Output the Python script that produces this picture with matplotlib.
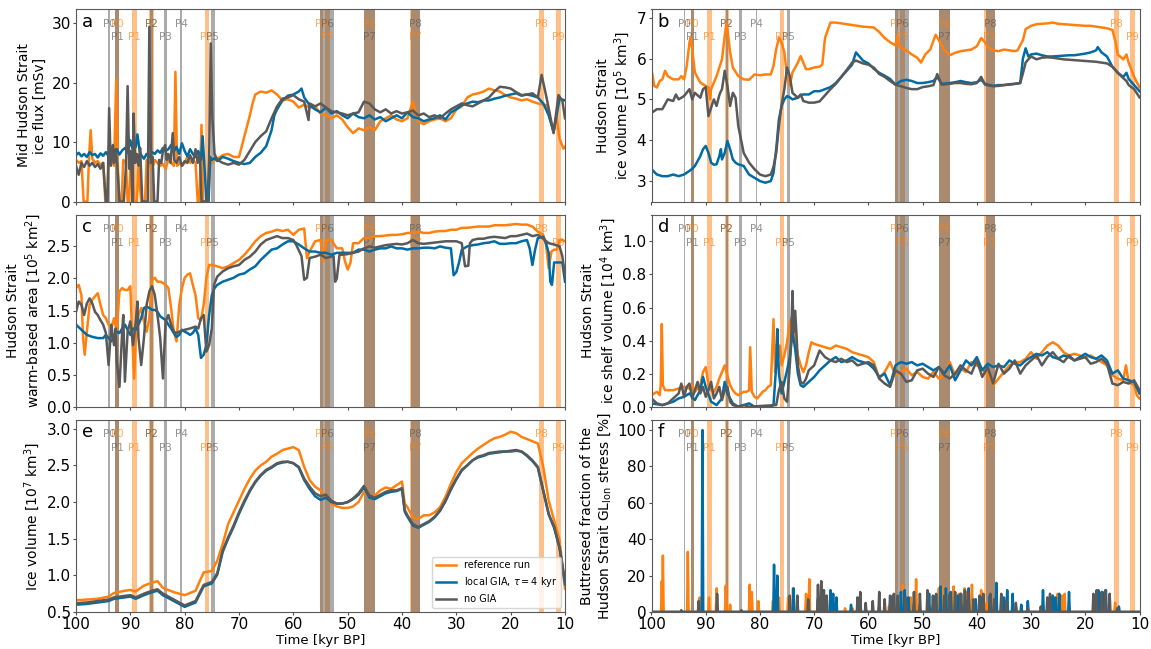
import numpy as np
import matplotlib
matplotlib.use("Agg")
import matplotlib.pyplot as plt
from matplotlib.transforms import blended_transform_factory

C_REF = "#FF800E"
C_LOC = "#006BA4"
C_NOG = "#595959"

# ---------------------------------------------------------------- events (kyr BP, older, younger)
ref_events = [("P0", 92.8, 92.1), ("P1", 89.7, 88.8), ("P2", 86.5, 85.7),
              ("P3", 76.3, 75.6), ("P4", 55.1, 54.5), ("P5", 54.2, 53.3),
              ("P6", 47.0, 45.0), ("P7", 38.6, 36.6), ("P8", 14.7, 13.8),
              ("P9", 11.7, 10.8)]
nogia_events = [("P0", 94.05, 93.8), ("P1", 92.8, 92.1), ("P2", 86.3, 85.9),
                ("P3", 83.8, 83.3), ("P4", 80.8, 80.55), ("P5", 75.1, 74.5),
                ("P6", 55.1, 52.5), ("P7", 47.0, 45.0), ("P8", 38.4, 36.6)]

# ---------------------------------------------------------------- a: mid Hudson Strait ice flux [mSv]
flux_ref = [(100, 7.0), (99.5, 6.5), (99, 6.8), (98.6, 0), (97.9, 0), (97.6, 7.5), (97.3, 12.0),
            (97, 7.2), (96.5, 6.5), (96, 6.8), (95.5, 6.2), (95, 6.5), (94.6, 0), (94.3, 0),
            (94, 6.5), (93.5, 7.0), (93, 6.0), (92.6, 20.5), (92.3, 6.0), (92, 0), (91.6, 0),
            (91.3, 7.0), (90.8, 6.5), (90.5, 0), (90.2, 0), (90, 6.0), (89.6, 7.0), (89.3, 0),
            (88.8, 0), (88.5, 5.8), (88, 0), (87.3, 0), (87, 7.0), (86.5, 6.5), (86, 5.5),
            (85.5, 7.0), (85, 6.5), (84.5, 6.0), (84, 6.3), (83.5, 5.5), (83, 7.0), (82.5, 6.5),
            (82, 6.0), (81.7, 21.8), (81.4, 6.0), (81, 6.5), (80.5, 6.0), (80, 6.5), (79.5, 7.5),
            (79, 6.5), (78.5, 7.0), (78, 6.5), (77.6, 0), (77.3, 0), (76.9, 12.9), (76.6, 0),
            (75.7, 0), (75.3, 6.5), (75, 6.5), (74.5, 7.0), (74, 7.2), (73, 7.8), (72, 8.0),
            (71, 7.5), (70, 7.5), (69, 11.0), (68, 14.5), (67.5, 16.5), (67, 18.0), (66, 18.5),
            (65, 18.3), (64, 18.7), (63, 18.0), (62, 17.0), (61, 17.2), (60, 16.8), (59, 15.8),
            (58, 16.3), (57, 15.8), (56, 16.0), (55, 14.8), (54, 14.5), (53, 14.0), (52, 14.5),
            (51, 13.8), (50, 12.5), (49, 11.5), (48, 12.3), (47, 12.0), (46, 12.5), (45, 12.0),
            (44, 13.5), (43, 14.0), (42, 14.5), (41, 13.8), (40, 13.5), (39, 14.0), (38, 16.8),
            (37, 13.5), (36, 13.0), (35, 13.5), (34, 13.8), (33, 14.0), (32, 13.5), (31, 14.0),
            (30, 15.5), (29, 16.0), (28, 17.5), (27, 18.0), (26, 18.2), (25, 18.5), (24, 19.0),
            (23, 18.7), (22, 18.5), (21, 17.9), (20, 17.5), (19, 17.3), (18, 17.0), (17, 17.2),
            (16, 16.8), (15, 16.5), (13.4, 16.2), (12.1, 11.7), (11.6, 14.5), (11, 10.6),
            (10.3, 8.9), (10, 9.2)]
flux_loc = [(100, 7.8), (99.5, 8.2), (99, 7.6), (98.5, 8.0), (98, 7.5), (97.5, 8.3), (97, 7.8),
            (96.5, 8.0), (96, 7.4), (95.5, 8.1), (95, 7.7), (94.5, 8.3), (94, 7.6), (93.5, 8.5),
            (93, 8.0), (92.5, 8.8), (92, 7.9), (91.5, 8.6), (91, 9.0), (90.5, 8.2), (90, 10.3),
            (89.5, 8.5), (89, 9.2), (88.7, 11.3), (88.3, 8.6), (88, 7.8), (87.5, 7.2), (87, 8.0),
            (86.5, 7.5), (86, 8.3), (85.5, 8.0), (85, 8.6), (84.5, 8.2), (84, 9.0), (83.5, 8.5),
            (83, 8.8), (82.5, 9.5), (82, 8.4), (81.5, 9.2), (81, 8.0), (80.5, 9.8), (80, 8.5),
            (79.5, 7.6), (79, 8.8), (78.5, 8.0), (78, 7.5), (77.5, 8.5), (77, 7.0), (76.7, 11.0),
            (76.3, 5.0), (76.0, 0), (75.6, 0), (75.3, 7.5), (75, 7.0), (74.5, 7.3), (74, 6.8),
            (73, 7.5), (72, 7.2), (71, 6.8), (70, 6.5), (69, 6.3), (68, 6.5), (67, 7.5),
            (66, 8.2), (65, 9.3), (64, 12.0), (63.5, 14.5), (63, 15.5), (62, 17.0), (61, 17.8),
            (60, 18.0), (59, 18.5), (58.5, 19.0), (58, 17.5), (57, 16.2), (56, 15.5), (55, 15.0),
            (54, 15.8), (53, 14.8), (52, 15.2), (51, 14.5), (50, 14.0), (49, 14.8), (48, 14.2),
            (47, 14.0), (46, 14.5), (45, 13.8), (44, 14.2), (43, 13.5), (42, 14.0), (41, 14.5),
            (40, 14.0), (39, 15.0), (38, 14.2), (37, 14.0), (36, 13.5), (35, 13.8), (34, 14.0),
            (33, 14.5), (32, 13.8), (31, 15.0), (30, 15.5), (29, 16.2), (28, 16.5), (27, 16.8),
            (26, 16.7), (25, 17.0), (24, 17.0), (23, 17.3), (22, 17.5), (21, 17.8), (20, 18.0),
            (19, 18.2), (18, 17.8), (17, 18.0), (16, 17.8), (15, 17.5), (14, 16.5), (13, 14.5),
            (12.1, 11.7), (11, 17.3), (10, 17.0)]
flux_nog = [(100, 6.0), (99.5, 4.5), (99, 6.5), (98.5, 5.8), (98, 6.8), (97.5, 6.0), (97, 6.5),
            (96.5, 5.8), (96, 6.3), (95.5, 5.5), (95, 6.5), (94.5, 0), (94.2, 0), (93.9, 15.7),
            (93.6, 6.0), (93.2, 9.5), (93, 6.5), (92.7, 8.8), (92.4, 6.0), (92, 0), (91.2, 0),
            (90.8, 6.0), (90.5, 19.4), (90.2, 5.5), (89.9, 8.5), (89.6, 0), (89.4, 14.8),
            (89.1, 6.5), (88.8, 8.0), (88.5, 6.0), (88.2, 9.0), (87.8, 0), (86.8, 0), (86.5, 29.4),
            (86.2, 6.5), (85.9, 7.5), (85.6, 0), (85.0, 0), (84.7, 7.0), (84.3, 6.5), (84, 8.5),
            (83.6, 9.5), (83.3, 7.0), (83, 8.0), (82.6, 6.5), (82.2, 11.5), (81.9, 7.0),
            (81.5, 6.5), (81, 7.5), (80.5, 6.0), (80, 6.8), (79.5, 6.5), (79, 7.8), (78.5, 6.5),
            (78, 8.8), (77.6, 6.5), (77.2, 8.0), (76.9, 0), (75.8, 0), (75.5, 7.0), (75.2, 26.6),
            (74.9, 14.0), (74.5, 8.0), (74, 7.0), (73, 6.5), (72, 6.2), (71, 6.5), (70, 6.2),
            (69, 7.0), (68, 8.5), (67, 10.0), (66, 11.0), (65, 11.8), (64, 14.0), (63, 16.0),
            (62, 17.3), (61, 17.5), (60, 17.9), (59, 17.2), (58, 16.8), (57.2, 13.7), (57, 16.5),
            (56, 16.0), (55, 16.5), (54, 15.8), (53, 15.2), (52, 15.0), (51, 14.8), (50, 14.5),
            (49, 14.8), (48, 15.0), (47, 16.8), (46, 16.5), (45, 15.5), (44, 15.0), (43, 15.5),
            (42, 14.8), (41, 15.2), (40, 14.8), (39, 15.0), (38, 15.3), (37, 14.5), (36, 14.8),
            (35, 14.2), (34, 14.5), (33, 14.0), (32, 14.8), (31, 15.5), (30, 16.0), (29, 16.5),
            (28, 16.2), (27, 16.0), (26, 16.5), (25, 17.0), (24, 17.5), (23, 18.5), (22, 19.3),
            (21, 19.2), (20, 19.0), (19, 18.4), (18, 17.9), (17, 18.0), (16, 18.2), (15, 17.5),
            (14.3, 21.3), (13.4, 17.5), (12.1, 11.5), (11.2, 17.9), (10.5, 17.0), (10, 14.0)]

# ---------------------------------------------------------------- b: Hudson Strait ice volume [1e5 km3]
hsvol_ref = [(100, 5.74), (99.5, 5.33), (99, 5.29), (98.5, 5.45), (98, 5.49), (97.5, 5.70),
             (97, 5.57), (96, 5.49), (95, 5.49), (94.5, 5.57), (94, 5.49), (93.5, 5.82),
             (93, 6.39), (92.8, 6.51), (92.5, 6.23), (92, 5.66), (91, 5.41), (90, 5.33),
             (89.5, 5.29), (89.2, 5.00), (89, 5.25), (88, 5.57), (87, 5.98), (86.5, 6.55),
             (86.2, 6.84), (86, 6.72), (85.5, 6.15), (85, 5.78), (84, 5.57), (83, 5.49),
             (82, 5.48), (81, 5.61), (80, 5.59), (79, 5.61), (78, 5.61), (77.5, 5.82), (77, 6.23),
             (76.5, 6.51), (76, 6.39), (75.5, 6.15), (75, 5.57), (74.5, 5.33), (74, 5.66),
             (73, 5.90), (72.5, 6.06), (72, 5.90), (71.5, 5.74), (71, 5.74), (70, 5.78),
             (69, 5.80), (68.5, 5.85), (68, 6.50), (67, 6.88), (66, 6.88), (65, 6.86), (64, 6.84),
             (63, 6.82), (62, 6.80), (61, 6.78), (60, 6.77), (59, 6.76), (58, 6.65), (57, 6.50),
             (56, 6.40), (55, 6.32), (54.7, 6.55), (54.2, 6.28), (53, 6.20), (52, 6.10),
             (51, 6.02), (50.3, 5.90), (49.5, 6.10), (48.6, 6.22), (47.6, 6.58), (47, 6.45),
             (46, 6.20), (45, 6.08), (44, 6.14), (43, 6.18), (42, 6.20), (41, 6.22), (40, 6.30),
             (39.2, 6.50), (38.5, 6.40), (38, 6.28), (37, 6.20), (36, 6.18), (35, 6.22),
             (34, 6.20), (33, 6.18), (32.5, 6.20), (31.5, 6.45), (31, 6.72), (30, 6.80),
             (29, 6.84), (28, 6.85), (27, 6.86), (26, 6.88), (25, 6.85), (24, 6.84), (23, 6.83),
             (22, 6.82), (21, 6.81), (20, 6.80), (19, 6.80), (18, 6.78), (17, 6.76), (16, 6.74),
             (15, 6.70), (14.4, 6.39), (14, 6.10), (13, 5.98), (12.4, 6.10), (12, 5.90),
             (11, 5.56), (10.5, 5.42), (10, 5.30)]
hsvol_loc = [(100, 3.29), (99, 3.16), (98, 3.12), (97, 3.12), (96, 3.16), (95.5, 3.14),
             (95, 3.12), (94, 3.16), (93, 3.25), (92.5, 3.30), (92, 3.37), (91, 3.61),
             (90.5, 3.78), (90, 3.86), (89.5, 3.69), (89, 3.45), (88.5, 3.40), (88, 3.41),
             (87.5, 3.61), (87.2, 3.78), (87, 3.53), (86.5, 3.69), (86, 3.98), (85.5, 3.78),
             (85, 3.53), (84.5, 3.45), (84, 3.41), (83, 3.37), (82, 3.16), (81, 3.08), (80, 3.00),
             (79, 2.96), (78, 3.00), (77.5, 3.20), (77, 3.78), (76.5, 4.51), (76, 4.84),
             (75.5, 5.00), (75, 5.08), (74.5, 5.05), (74, 5.00), (73, 5.04), (72.5, 5.10),
             (72, 5.12), (71, 5.12), (70, 5.20), (69, 5.20), (68, 5.25), (67, 5.30), (66, 5.40),
             (65, 5.55), (64, 5.70), (63, 5.85), (62.3, 6.15), (61, 5.95), (60, 5.88), (59, 5.75),
             (58, 5.65), (57, 5.58), (56, 5.50), (55, 5.36), (54, 5.45), (53, 5.48), (52, 5.45),
             (51, 5.40), (50, 5.40), (49, 5.42), (48, 5.45), (47.3, 5.55), (46.5, 5.38),
             (45, 5.40), (44, 5.42), (43, 5.45), (42, 5.42), (41, 5.40), (40, 5.42), (39.2, 5.48),
             (38.5, 5.38), (37, 5.33), (36, 5.35), (35, 5.35), (34, 5.37), (33, 5.38), (32, 5.40),
             (31.5, 6.00), (31, 6.25), (30.5, 6.05), (30, 6.10), (29, 6.12), (28, 6.08),
             (27, 6.05), (26, 6.05), (25, 6.06), (24, 6.07), (23, 6.08), (22, 6.08), (21, 6.10),
             (20, 6.12), (19, 6.15), (18, 6.20), (17.7, 6.28), (17, 6.15), (16, 6.05), (15, 5.80),
             (14, 5.65), (13, 5.55), (12.4, 5.65), (12, 5.50), (11, 5.35), (10, 5.20)]
hsvol_nog = [(100, 4.67), (99, 4.76), (98, 4.76), (97, 5.00), (96, 4.96), (95.5, 5.12),
             (95, 5.00), (94, 5.08), (93, 5.25), (92.5, 5.00), (92, 5.16), (91, 5.04),
             (90.5, 5.25), (90, 5.30), (89.5, 4.59), (89, 4.80), (88.5, 5.00), (88, 4.84),
             (87.5, 5.10), (87.2, 5.20), (87, 5.25), (86.5, 5.70), (86, 5.33), (85.5, 4.84),
             (85, 5.16), (84.5, 5.04), (84, 4.35), (83, 3.69), (82, 3.45), (81, 3.29), (80, 3.16),
             (79, 3.12), (78, 3.16), (77.5, 3.35), (77, 3.69), (76.5, 4.35), (76, 4.88),
             (75.5, 5.25), (75, 5.78), (74.5, 5.57), (74, 5.16), (73, 5.04), (72.5, 5.12),
             (72, 4.96), (71, 4.92), (70, 4.92), (69, 4.95), (68, 5.10), (67, 5.25), (66, 5.38),
             (65, 5.55), (64, 5.72), (63, 5.90), (62.3, 5.95), (61, 5.88), (60, 5.85), (59, 5.78),
             (58, 5.62), (57, 5.55), (56, 5.45), (55, 5.36), (54, 5.32), (53, 5.28), (52, 5.25),
             (51, 5.25), (50, 5.30), (49, 5.32), (48, 5.35), (47.3, 5.62), (46.5, 5.36),
             (45, 5.38), (44, 5.40), (43, 5.40), (42, 5.38), (41, 5.37), (40, 5.40), (39.2, 5.55),
             (38.5, 5.36), (37, 5.32), (36, 5.33), (35, 5.35), (34, 5.36), (33, 5.38), (32, 5.40),
             (31.5, 5.64), (31, 5.90), (30.5, 5.98), (30, 6.05), (29, 5.98), (28, 6.02),
             (27, 6.03), (26, 6.02), (25, 6.00), (24, 5.98), (23, 5.97), (22, 5.96), (21, 5.95),
             (20, 5.94), (19, 5.93), (18, 5.92), (17, 5.90), (16, 5.88), (15, 5.80), (14, 5.65),
             (13, 5.52), (12.4, 5.45), (12, 5.35), (11, 5.25), (10, 5.05)]

# ---------------------------------------------------------------- c: warm-based area [1e5 km2]
area_ref = [(100, 1.85), (99.5, 1.90), (99, 1.74), (98.7, 1.07), (98.4, 0.81), (98, 1.17),
            (97.5, 1.59), (97, 1.67), (96.5, 1.72), (96, 1.77), (95.5, 1.59), (95, 1.43),
            (94.5, 1.38), (94, 1.28), (93.5, 1.22), (93, 1.38), (92.5, 1.17), (92, 1.80),
            (91.5, 1.85), (91, 1.82), (90.5, 1.82), (90, 1.88), (89.7, 1.17), (89.3, 0.44),
            (89, 1.07), (88.5, 1.43), (88, 1.54), (87.5, 1.33), (87, 1.17), (86.5, 1.38),
            (86, 1.98), (85.5, 2.01), (85, 1.95), (84.5, 1.95), (84, 1.93), (83.5, 1.90),
            (83, 1.85), (82.5, 1.54), (82, 1.17), (81.5, 1.02), (81, 1.59), (80.5, 1.85),
            (80, 2.01), (79.5, 2.06), (79, 2.08), (78.5, 1.90), (78, 1.74), (77.5, 1.38),
            (77, 1.35), (76.5, 1.59), (76, 2.01), (75.5, 2.21), (75, 2.21), (74, 2.19), (73, 2.16),
            (72, 2.19), (71, 2.24), (70, 2.29), (69, 2.37), (68, 2.47), (67, 2.58), (66, 2.66),
            (65, 2.71), (64, 2.73), (63, 2.76), (62, 2.74), (61, 2.76), (60, 2.68), (59, 2.76),
            (58, 2.78), (57.5, 2.32), (57, 2.42), (56, 2.58), (55, 2.60), (54.5, 2.27), (54, 2.58),
            (53, 2.60), (52, 2.47), (51, 2.47), (50.5, 2.27), (50, 2.14), (49.5, 2.24), (49, 2.55),
            (48, 2.55), (47, 2.63), (46, 2.63), (45, 2.66), (44, 2.66), (43, 2.67), (42, 2.68),
            (41, 2.68), (40, 2.69), (39, 2.71), (38, 2.71), (37, 2.73), (36, 2.71), (35, 2.71),
            (34, 2.73), (33, 2.74), (32, 2.74), (31, 2.76), (30, 2.76), (29, 2.79), (28, 2.79),
            (27, 2.80), (26, 2.81), (25, 2.81), (24, 2.81), (23, 2.83), (22, 2.83), (21, 2.83),
            (20, 2.84), (19, 2.85), (18, 2.84), (17, 2.84), (16, 2.81), (15, 2.73), (14, 2.68),
            (13.5, 2.53), (13, 2.16), (12.5, 2.42), (12, 2.45), (11.5, 2.45), (11, 2.60),
            (10.5, 2.60), (10, 2.58)]
area_loc = [(100, 1.28), (99, 1.20), (98, 1.12), (97, 1.09), (96, 1.07), (95, 1.07), (94.5, 1.12),
            (94, 1.07), (93.5, 1.02), (93, 1.09), (92.5, 1.17), (92, 1.15), (91.5, 1.22),
            (91, 1.28), (90.5, 1.20), (90, 1.12), (89.5, 1.22), (89, 1.20), (88.5, 1.28),
            (88, 1.38), (87.5, 1.54), (87, 1.56), (86.5, 1.54), (86, 1.51), (85.5, 1.51),
            (85, 1.48), (84.5, 1.41), (84, 1.38), (83.5, 1.35), (83, 1.28), (82.5, 1.22),
            (82, 1.15), (81.5, 1.09), (81, 1.12), (80.5, 1.20), (80, 1.17), (79.5, 1.15),
            (79, 1.12), (78.5, 1.15), (78, 1.22), (77.5, 1.12), (77, 0.76), (76.5, 0.81),
            (76, 0.96), (75.5, 1.43), (75, 1.74), (74.5, 1.85), (74, 1.90), (73, 1.95), (72, 1.98),
            (71, 2.01), (70, 2.06), (69, 2.08), (68, 2.14), (67, 2.19), (66, 2.29), (65, 2.37),
            (64, 2.45), (63, 2.47), (62, 2.53), (61, 2.58), (60, 2.58), (59, 2.53), (58, 2.47),
            (57, 2.42), (56, 2.42), (55, 2.40), (54, 2.40), (53, 2.37), (52, 2.40), (51, 2.40),
            (50, 2.40), (49, 2.40), (48, 2.45), (47, 2.45), (46, 2.42), (45, 2.45), (44, 2.47),
            (43, 2.47), (42, 2.50), (41, 2.47), (40, 2.47), (39, 2.45), (38, 2.47), (37, 2.47),
            (36, 2.48), (35, 2.48), (34, 2.47), (33, 2.50), (32, 2.48), (31, 2.47), (30.5, 2.05),
            (30, 2.10), (29.5, 2.25), (29, 2.45), (28, 2.50), (27, 2.52), (26, 2.53), (25, 2.55),
            (24, 2.56), (23, 2.58), (22, 2.54), (21, 2.54), (20, 2.55), (19, 2.55), (18, 2.58),
            (17, 2.60), (16.5, 2.47), (16, 2.21), (15.5, 2.45), (15, 2.63), (14, 2.65),
            (13.5, 2.55), (13, 2.40), (12.7, 1.95), (12.4, 1.90), (12, 2.25), (11.5, 2.25),
            (11, 2.25), (10.5, 2.25), (10, 1.95)]
area_nog = [(100, 1.48), (99.5, 1.64), (99, 1.59), (98.5, 1.43), (98, 1.61), (97.5, 1.69),
            (97, 1.61), (96.5, 1.48), (96, 1.43), (95.5, 1.35), (95, 1.28), (94.5, 1.15),
            (94, 0.65), (93.5, 1.28), (93, 0.96), (92.7, 1.22), (92.5, 0.70), (92, 0.31),
            (91.5, 1.17), (91.3, 1.43), (91, 0.39), (90.5, 1.17), (90, 1.33), (89.5, 0.96),
            (89, 1.33), (88.7, 1.64), (88.5, 1.07), (88, 0.65), (87.5, 1.07), (87, 1.59),
            (86.5, 1.80), (86, 1.88), (85.5, 1.74), (85, 1.43), (84.5, 1.07), (84, 0.44),
            (83.5, 1.33), (83, 1.43), (82.5, 1.28), (82, 1.17), (81.5, 1.15), (81, 1.17),
            (80, 1.20), (79, 1.22), (78, 1.25), (77.5, 1.22), (77, 1.38), (76.5, 1.43), (76, 0.86),
            (75.5, 0.96), (75, 1.22), (74.6, 1.90), (74, 2.03), (73, 2.11), (72, 2.16), (71, 2.19),
            (70, 2.21), (69, 2.29), (68, 2.34), (67, 2.42), (66, 2.53), (65, 2.60), (64, 2.63),
            (63, 2.66), (62, 2.63), (61, 2.63), (60, 2.60), (59.5, 2.53), (58.5, 2.35), (58, 1.98),
            (57.5, 2.01), (57, 2.32), (56, 2.34), (55, 2.37), (54, 2.32), (53, 2.34), (52.6, 2.35),
            (52.3, 1.95), (52, 2.00), (51.5, 2.37), (51, 2.37), (50, 2.38), (49, 2.40), (48, 2.42),
            (47, 2.47), (46, 2.50), (45, 2.48), (44, 2.50), (43, 2.52), (42, 2.53), (41, 2.54),
            (40, 2.53), (39, 2.55), (38, 2.60), (37, 2.55), (36, 2.54), (35, 2.55), (34, 2.56),
            (33, 2.57), (32, 2.58), (31, 2.58), (30, 2.58), (29, 2.55), (28.4, 2.19), (27.8, 2.20),
            (27.5, 2.55), (27, 2.60), (26, 2.62), (25, 2.62), (24, 2.64), (23, 2.65), (22, 2.64),
            (21, 2.63), (20, 2.66), (19, 2.66), (18, 2.68), (17, 2.70), (16, 2.66), (15, 2.68),
            (14, 2.62), (13, 2.55), (12, 2.53), (11, 2.50), (10.5, 2.35), (10, 2.05)]

# ---------------------------------------------------------------- d: ice shelf volume [1e4 km3]
shelf_ref = [(100, 0.07), (99.5, 0.08), (99, 0.09), (98.5, 0.07), (98.3, 0.13), (98.1, 0.50),
             (97.9, 0.13), (97.5, 0.10), (97, 0.10), (96, 0.10), (95, 0.11), (94, 0.12), (93, 0.11),
             (92.5, 0.13), (92, 0.09), (91.5, 0.11), (91, 0.13), (90.5, 0.21), (90, 0.24),
             (89.5, 0.13), (89, 0.10), (88.5, 0.09), (88, 0.12), (87.5, 0.17), (87, 0.21),
             (86.5, 0.25), (86, 0.19), (85.5, 0.13), (85, 0.10), (84.5, 0.08), (84, 0.07),
             (83.5, 0.08), (83, 0.09), (82.5, 0.09), (82, 0.10), (81.8, 0.36), (81.5, 0.09),
             (81, 0.06), (80.5, 0.05), (80, 0.07), (79.5, 0.09), (79, 0.10), (78.5, 0.12),
             (78, 0.13), (77.5, 0.53), (77.2, 0.21), (77, 0.37), (76.7, 0.29), (76.3, 0.37),
             (76, 0.25), (75.5, 0.31), (75, 0.39), (74.5, 0.51), (74, 0.55), (73.5, 0.41),
             (73, 0.31), (72.5, 0.25), (72, 0.21), (71.5, 0.25), (71, 0.33), (70.5, 0.39),
             (70, 0.38), (69, 0.37), (68, 0.36), (67, 0.35), (66, 0.37), (65, 0.36), (64, 0.35),
             (63, 0.33), (62, 0.32), (61, 0.31), (60, 0.30), (59, 0.27), (58, 0.17), (57, 0.21),
             (56, 0.27), (55, 0.19), (54, 0.21), (53, 0.23), (52, 0.19), (51, 0.21), (50, 0.18),
             (49, 0.17), (48, 0.21), (47, 0.17), (46, 0.19), (45, 0.27), (44, 0.19), (43, 0.23),
             (42, 0.21), (41, 0.27), (40, 0.25), (39, 0.23), (38, 0.19), (37, 0.13), (36, 0.17),
             (35, 0.21), (34, 0.25), (33, 0.27), (32, 0.27), (31, 0.29), (30, 0.33), (29, 0.29),
             (28, 0.33), (27, 0.37), (26, 0.39), (25, 0.37), (24, 0.33), (23, 0.31), (22, 0.32),
             (21, 0.31), (20, 0.30), (19, 0.31), (18, 0.29), (17, 0.27), (16, 0.25), (15, 0.19),
             (14, 0.17), (13, 0.16), (12.5, 0.25), (12, 0.15), (11, 0.13), (10.5, 0.07), (10, 0.05)]
shelf_loc = [(100, 0.02), (98, 0.01), (96, 0.03), (95, 0.05), (94, 0.06), (93, 0.08), (92, 0.04),
             (91, 0.10), (90.5, 0.18), (90, 0.12), (89, 0.03), (88, 0.01), (87, 0.05), (86.5, 0.15),
             (86, 0.08), (85, 0.02), (84, 0.0), (83, 0.01), (82, 0.02), (81, 0.0), (78, 0.0),
             (77.5, 0.01), (77, 0.25), (76.8, 0.47), (76.5, 0.20), (76, 0.08), (75.5, 0.15),
             (75, 0.22), (74.5, 0.30), (74, 0.45), (73.5, 0.35), (73, 0.20), (72.5, 0.13),
             (72, 0.12), (71, 0.15), (70, 0.18), (69, 0.22), (68, 0.25), (67, 0.28), (66, 0.30),
             (65, 0.27), (64, 0.28), (63, 0.30), (62, 0.28), (61, 0.27), (60, 0.26), (59, 0.23),
             (58, 0.18), (57, 0.20), (56, 0.13), (55, 0.25), (54, 0.27), (53, 0.26), (52, 0.27),
             (51, 0.25), (50, 0.26), (49, 0.24), (48, 0.22), (47, 0.24), (46, 0.20), (45, 0.25),
             (44, 0.16), (43, 0.22), (42, 0.28), (41, 0.25), (40, 0.30), (39, 0.22), (38, 0.26),
             (37, 0.24), (36, 0.25), (35, 0.24), (34, 0.28), (33, 0.26), (32, 0.25), (31, 0.28),
             (30, 0.30), (29, 0.32), (28, 0.31), (27, 0.33), (26, 0.30), (25, 0.29), (24, 0.31),
             (23, 0.30), (22, 0.28), (21, 0.30), (20, 0.32), (19, 0.30), (18, 0.29), (17, 0.31),
             (16, 0.28), (15, 0.20), (14, 0.22), (13, 0.17), (12, 0.16), (11, 0.15), (10, 0.08)]
shelf_nog = [(100, 0.05), (99, 0.02), (98, 0.01), (97, 0.02), (96, 0.05), (95, 0.08), (94.5, 0.14),
             (94, 0.06), (93.5, 0.12), (93, 0.14), (92.5, 0.05), (92, 0.10), (91.5, 0.15),
             (91, 0.08), (90.5, 0.12), (90, 0.06), (89.5, 0.10), (89, 0.15), (88.5, 0.05),
             (88, 0.08), (87.5, 0.12), (87, 0.04), (86.5, 0.10), (86, 0.12), (85.5, 0.03),
             (85, 0.01), (84, 0.0), (83, 0.01), (82, 0.0), (77, 0.01), (76.5, 0.10), (76, 0.15),
             (75.5, 0.05), (75, 0.03), (74.6, 0.20), (74.3, 0.35), (74, 0.70), (73.8, 0.45),
             (73.5, 0.58), (73.2, 0.40), (73, 0.25), (72.5, 0.15), (72, 0.14), (71.5, 0.17),
             (71, 0.22), (70, 0.25), (69, 0.34), (68, 0.30), (67, 0.28), (66, 0.27), (65, 0.29),
             (64, 0.27), (63, 0.28), (62, 0.25), (61, 0.26), (60, 0.27), (59, 0.25), (58, 0.17),
             (57, 0.14), (56, 0.12), (55, 0.22), (54, 0.20), (53, 0.15), (52, 0.16), (51, 0.22),
             (50, 0.23), (49, 0.20), (48, 0.18), (47, 0.24), (46, 0.19), (45, 0.17), (44, 0.20),
             (43, 0.25), (42, 0.22), (41, 0.20), (40, 0.28), (39, 0.18), (38, 0.24), (37, 0.14),
             (36, 0.26), (35, 0.20), (34, 0.23), (33, 0.28), (32, 0.20), (31, 0.25), (30, 0.28),
             (29, 0.31), (28, 0.25), (27, 0.30), (26, 0.33), (25, 0.29), (24, 0.27), (23, 0.31),
             (22, 0.28), (21, 0.29), (20, 0.30), (19, 0.26), (18, 0.27), (17, 0.29), (16, 0.26),
             (15, 0.14), (14, 0.13), (13, 0.15), (12, 0.14), (11, 0.16), (10, 0.10)]

# ---------------------------------------------------------------- e: total ice volume [1e7 km3]
vol_t = [100, 98, 96, 94, 93, 91, 90, 89, 87.5, 86, 85, 84, 82, 80, 78, 76.5, 75, 74, 73, 72,
         71, 70, 69, 68, 67, 66, 65, 64, 63, 62, 61, 60, 59, 58, 57, 56, 55, 54, 53, 52, 51,
         50, 49, 48, 47, 46, 45, 44, 43, 42, 41, 40, 39.5, 39, 38, 37, 36, 35, 34, 33, 32, 31,
         30, 29, 28, 27, 26, 25, 24, 23, 22, 21, 20, 19, 18, 17, 16, 15, 14, 13, 12, 11, 10]
vol_ref = [0.66, 0.67, 0.68, 0.71, 0.76, 0.79, 0.80, 0.78, 0.86, 0.90, 0.92, 0.83, 0.77, 0.73,
           0.79, 1.04, 1.06, 1.20, 1.43, 1.70, 1.86, 2.02, 2.18, 2.32, 2.43, 2.50, 2.55, 2.62,
           2.66, 2.71, 2.73, 2.75, 2.71, 2.48, 2.30, 2.21, 2.16, 2.07, 1.98, 1.94, 1.92, 1.92,
           1.94, 2.00, 2.14, 2.07, 2.09, 2.16, 2.20, 2.18, 2.23, 2.28, 1.98, 1.93, 1.79, 1.77,
           1.82, 1.82, 1.86, 1.93, 2.07, 2.25, 2.41, 2.53, 2.60, 2.67, 2.73, 2.78, 2.83, 2.87,
           2.89, 2.92, 2.96, 2.94, 2.89, 2.86, 2.83, 2.80, 2.48, 2.02, 1.75, 1.48, 0.82]
vol_loc = [0.60, 0.61, 0.63, 0.65, 0.68, 0.70, 0.71, 0.68, 0.73, 0.77, 0.79, 0.73, 0.65, 0.57,
           0.63, 0.85, 0.89, 1.01, 1.32, 1.50, 1.66, 1.84, 2.00, 2.15, 2.27, 2.36, 2.43, 2.47,
           2.52, 2.54, 2.55, 2.53, 2.47, 2.30, 2.18, 2.08, 2.03, 2.06, 2.00, 1.98, 1.98, 2.00,
           2.04, 2.10, 2.20, 2.06, 2.04, 2.08, 2.12, 2.14, 2.15, 2.18, 1.87, 1.80, 1.68, 1.65,
           1.69, 1.73, 1.79, 1.88, 2.01, 2.17, 2.31, 2.43, 2.50, 2.57, 2.61, 2.63, 2.66, 2.67,
           2.68, 2.69, 2.70, 2.71, 2.69, 2.63, 2.56, 2.47, 2.15, 1.83, 1.65, 1.37, 0.88]
vol_nog = [0.62, 0.63, 0.65, 0.67, 0.70, 0.72, 0.73, 0.70, 0.75, 0.79, 0.81, 0.75, 0.67, 0.59,
           0.65, 0.87, 0.91, 1.03, 1.34, 1.52, 1.68, 1.86, 2.02, 2.16, 2.28, 2.37, 2.44, 2.48,
           2.53, 2.55, 2.55, 2.53, 2.48, 2.32, 2.21, 2.12, 2.08, 2.10, 2.02, 1.98, 1.98, 2.00,
           2.05, 2.12, 2.22, 2.09, 2.06, 2.10, 2.14, 2.16, 2.16, 2.19, 1.89, 1.82, 1.70, 1.66,
           1.70, 1.74, 1.80, 1.89, 2.02, 2.18, 2.32, 2.44, 2.50, 2.57, 2.62, 2.64, 2.67, 2.68,
           2.69, 2.69, 2.69, 2.70, 2.69, 2.64, 2.57, 2.48, 2.16, 1.84, 1.66, 1.38, 0.92]

# ---------------------------------------------------------------- f: buttressed fraction [%], (time, peak)
butt_ref = [(98.1, 17), (97.9, 31), (93.3, 33), (91.1, 8), (89.4, 8), (88.0, 13), (86.3, 14.5),
            (85.5, 4), (81.9, 15), (81.5, 11), (80.3, 6), (77.6, 6), (76.5, 8), (74.8, 8),
            (73.9, 13), (71.5, 10), (70.9, 18), (64.3, 2), (62.9, 2), (56.2, 3), (53.7, 15),
            (52.2, 8), (51.2, 18), (47.0, 13), (46.4, 14), (45.7, 12), (44.3, 14), (43.3, 10),
            (42.3, 13), (41.8, 11), (40.9, 15), (39.2, 12), (38.2, 5), (35.5, 5), (32.8, 3),
            (25.8, 8), (25.1, 10), (24.3, 9), (23.8, 10), (14.5, 5)]
butt_loc = [(90.6, 100), (77.4, 26), (76.8, 20), (73.8, 13), (69.3, 7), (67.0, 12), (66.5, 10),
            (65.9, 8), (63.2, 4), (58.0, 3), (55.5, 9), (54.0, 11), (53.3, 12), (52.6, 8),
            (48.8, 10), (47.6, 9), (46.7, 14), (45.7, 13), (44.8, 11), (43.5, 9), (42.9, 10),
            (41.5, 13), (40.2, 7), (39.2, 8), (37.6, 9), (36.4, 16), (35.0, 8), (34.4, 12),
            (33.4, 10), (31.8, 4), (30.6, 6), (27.8, 12), (26.0, 9), (25.5, 8), (24.8, 10),
            (23.0, 11), (17.6, 12), (17.2, 9), (16.8, 11), (16.2, 12), (13.8, 3)]
butt_nog = [(94.5, 1), (91.3, 6), (87.9, 10), (83.4, 1), (74.5, 9), (73.1, 9), (71.1, 7),
            (69.3, 15), (68.7, 17), (68.2, 12), (67.7, 9), (62.0, 8), (61.5, 11), (60.5, 5),
            (59.2, 6), (58.0, 11), (57.0, 7), (56.0, 9), (55.3, 10), (54.6, 9), (53.1, 8),
            (51.6, 11), (50.5, 10), (49.1, 12), (48.1, 9), (47.5, 10), (46.0, 9), (45.0, 10),
            (44.0, 11), (43.0, 10), (42.2, 12), (41.6, 11), (40.6, 7), (39.5, 9), (38.8, 10),
            (37.5, 10), (36.8, 7), (35.5, 10), (34.5, 6), (32.8, 5), (30.6, 2), (28.2, 3),
            (27.0, 8), (26.5, 10), (18.5, 10), (17.9, 12), (17.0, 11), (16.3, 12), (15.5, 10),
            (14.1, 2)]

ylabels = {
    "a": "Mid Hudson Strait\nice flux [mSv]",
    "b": "Hudson Strait\nice volume [10$^5$ km$^3$]",
    "c": "Hudson Strait\nwarm-based area [10$^5$ km$^2$]",
    "d": "Hudson Strait\nice shelf volume [10$^4$ km$^3$]",
    "e": "Ice volume [10$^7$ km$^3$]",
    "f": "Buttressed fraction of the\nHudson Strait GL$_{\\mathrm{lon}}$ stress [%]",
}
ylims = {"a": (0, 32.3), "b": (2.5, 7.2), "c": (0, 2.99), "d": (0, 1.16),
         "e": (0.5, 3.12), "f": (0, 105.5)}
xticks = [100, 90, 80, 70, 60, 50, 40, 30, 20, 10]


def split(pairs):
    arr = np.array(pairs, dtype=float)
    return arr[:, 0], arr[:, 1]


def spike_line(spikes, half_width=0.14):
    pts = [(100.0, 0.0)]
    for t, h in sorted(spikes, key=lambda s: -s[0]):
        pts += [(t + half_width, 0.0), (t, h), (t - half_width, 0.0)]
    pts.append((10.0, 0.0))
    return split(pts)


def draw_events(ax):
    trans = blended_transform_factory(ax.transData, ax.transAxes)
    for name, t0, t1 in ref_events:
        ax.axvspan(t1, t0, color=C_REF, alpha=0.5, lw=0, zorder=1)
    for name, t0, t1 in nogia_events:
        ax.axvspan(t1, t0, color=C_NOG, alpha=0.5, lw=0, zorder=1.1)
    for events, col in ((ref_events, C_REF), (nogia_events, C_NOG)):
        for i, (name, t0, t1) in enumerate(events):
            y = 0.925 if i % 2 == 0 else 0.855
            ax.text(0.5 * (t0 + t1), y, name, transform=trans, color=col, alpha=0.65,
                    fontsize=7.5, ha="center", va="center", zorder=1.5)


plt.rcParams["font.family"] = ["DejaVu Sans"]
fig = plt.figure(figsize=(11.51, 6.49), dpi=100)

W, H = 1151.0, 649.0
cols = [(76.0, 489.0), (651.5, 488.0)]
rows = [(9.5, 201.5), (215.0, 406.7), (420.0, 612.0)]
letters = [["a", "b"], ["c", "d"], ["e", "f"]]
axes = {}
for r, (top, bot) in enumerate(rows):
    for c, (x0, w) in enumerate(cols):
        ax = fig.add_axes([x0 / W, 1 - bot / H, w / W, (bot - top) / H])
        axes[letters[r][c]] = ax

series = {
    "a": (flux_ref, flux_loc, flux_nog),
    "b": (hsvol_ref, hsvol_loc, hsvol_nog),
    "c": (area_ref, area_loc, area_nog),
    "d": (shelf_ref, shelf_loc, shelf_nog),
}
LW = 1.8

for key, ax in axes.items():
    draw_events(ax)
    if key in series:
        for pairs, col, z in zip(series[key], (C_REF, C_LOC, C_NOG), (2, 2.1, 2.2)):
            t, v = split(pairs)
            ax.plot(t, v, color=col, lw=LW, zorder=z)
    elif key == "e":
        ax.plot(vol_t, vol_ref, color=C_REF, lw=LW, zorder=2, label="reference run")
        ax.plot(vol_t, vol_loc, color=C_LOC, lw=LW, zorder=2.1,
                label=r"local GIA, $\tau = 4$ kyr")
        ax.plot(vol_t, vol_nog, color=C_NOG, lw=LW, zorder=2.2, label="no GIA")
    else:
        for spikes, col, z in zip((butt_ref, butt_loc, butt_nog), (C_REF, C_LOC, C_NOG),
                                  (2, 2.1, 2.2)):
            t, v = spike_line(spikes)
            ax.plot(t, v, color=col, lw=LW, zorder=z)

    ax.set_xlim(100, 10)
    ax.set_ylim(*ylims[key])
    ax.set_xticks(xticks)
    ax.set_ylabel(ylabels[key], fontsize=10, labelpad=3)
    ax.tick_params(labelsize=11, color="0.3", length=2.5, pad=1.2)
    for sp in ax.spines.values():
        sp.set_color("0.35")
    ax.text(0.013, 0.935, key, transform=ax.transAxes, fontsize=13, ha="left", va="center",
            zorder=3)
    if key in ("e", "f"):
        ax.set_xlabel("Time [kyr BP]", fontsize=9.5, labelpad=1)
    else:
        ax.tick_params(labelbottom=False)

axes["a"].set_yticks([0, 10, 20, 30])
axes["b"].set_yticks([3, 4, 5, 6, 7])
axes["c"].set_yticks([0.0, 0.5, 1.0, 1.5, 2.0, 2.5])
axes["d"].set_yticks([0.0, 0.2, 0.4, 0.6, 0.8, 1.0])
axes["e"].set_yticks([0.5, 1.0, 1.5, 2.0, 2.5, 3.0])
axes["f"].set_yticks([0, 20, 40, 60, 80, 100])

leg = axes["e"].legend(loc="lower right", fontsize=7, frameon=True, borderaxespad=0.4)
leg.set_zorder(5)

fig.savefig("out.png", dpi=100)
